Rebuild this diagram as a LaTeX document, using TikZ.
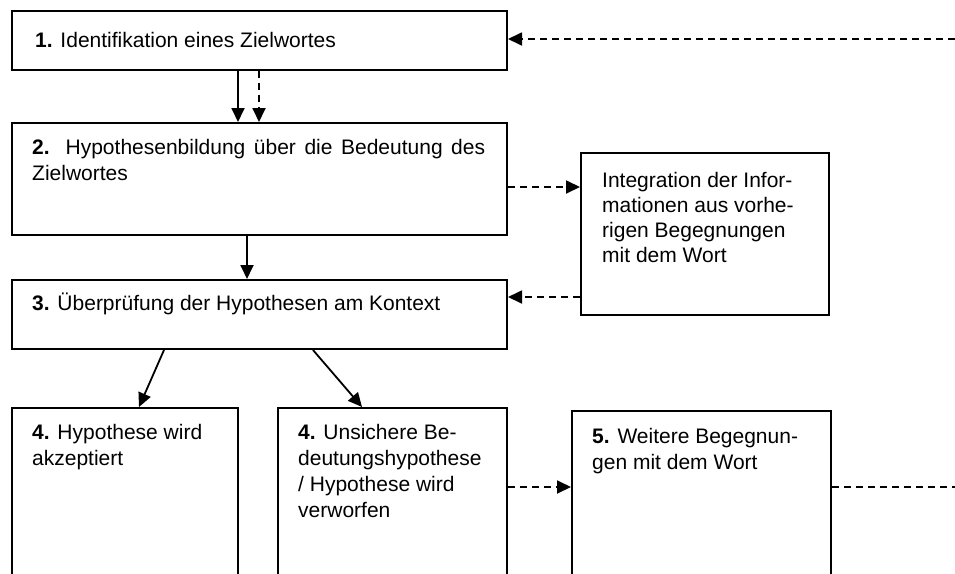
\documentclass[tikz,border=0pt]{standalone}
\usepackage{fontspec}
\setmainfont{Liberation Sans}
\usetikzlibrary{arrows.meta}
\newcommand{\txtlines}[1]{\begin{tabular}[t]{@{}l@{}}#1\end{tabular}}
\begin{document}
\begin{tikzpicture}[x=1pt,y=-1pt,
  box/.style={draw, line width=2pt, inner sep=0pt, anchor=north west},
  txt/.style={inner sep=0pt, anchor=base west, font=\fontsize{21}{26}\selectfont},
  conn/.style={line width=1.8pt, -{Triangle[length=14pt,width=13pt]}},
  dconn/.style={conn, dash pattern=on 7pt off 5pt},
  dline/.style={line width=1.8pt, dash pattern=on 7pt off 5pt}]
\useasboundingbox (0,0) rectangle (955,573);
\begin{scope}
\clip (0,0) rectangle (955,573);
% boxes
\node[box, minimum width=495pt, minimum height=59pt] (b1) at (11,10) {};
\node[box, minimum width=495pt, minimum height=112pt] (b2) at (11,122) {};
\node[box, minimum width=495pt, minimum height=69pt] (b3) at (11,279) {};
\node[box, minimum width=248pt, minimum height=162pt] (integ) at (580,152) {};
\node[box, minimum width=226pt, minimum height=200pt] (b4a) at (11,407) {};
\node[box, minimum width=229pt, minimum height=200pt] (b4b) at (277,407) {};
\node[box, minimum width=259pt, minimum height=200pt] (b5) at (571,410) {};
% texts
\node[txt] (t1) at (35,47) {\textbf{1.} Identifikation eines Zielwortes};
\node[txt] (t2) at (32,154) {\txtlines{\makebox[453pt][s]{\textbf{2.} Hypothesenbildung über die Bedeutung des}\\Zielwortes}};
\node[txt] (t3) at (32,310) {\textbf{3.} Überprüfung der Hypothesen am Kontext};
\node[txt, font=\fontsize{21}{25.3}\selectfont] (ti) at (602,187) {\txtlines{Integration der Infor-\\mationen aus vorhe-\\rigen Begegnungen\\mit dem Wort}};
\node[txt] (t4a) at (32,439) {\txtlines{\textbf{4.} Hypothese wird\\akzeptiert}};
\node[txt] (t4b) at (298,439) {\txtlines{\textbf{4.} Unsichere Be-\\deutungshypothese\\/ Hypothese wird\\verworfen}};
\node[txt] (t5) at (592,443) {\txtlines{\textbf{5.} Weitere Begegnun-\\gen mit dem Wort}};
% connectors
\coordinate (r1) at (955,39);
\coordinate (r2) at (955,487);
\draw[conn] (238,0 |- b1.south) -- (238,0 |- b2.north);
\draw[dconn] (259,0 |- b1.south) -- (259,0 |- b2.north);
\draw[conn] (247,0 |- b2.south) -- (247,0 |- b3.north);
\draw[dconn] (b2.east |- 0,187) -- (integ.west |- 0,187);
\draw[dconn] (integ.west |- 0,297) -- (b3.east |- 0,297);
\draw[conn] (164,0 |- b3.south) -- (139,0 |- b4a.north);
\draw[conn] (313,0 |- b3.south) -- (362,0 |- b4b.north);
\draw[dconn] (b4b.east |- 0,487) -- (b5.west |- 0,487);
\draw[dconn] (r1) -- (b1.east |- r1);
\draw[dline] (b5.east |- r2) -- (r2);
\end{scope}
\end{tikzpicture}
\end{document}
